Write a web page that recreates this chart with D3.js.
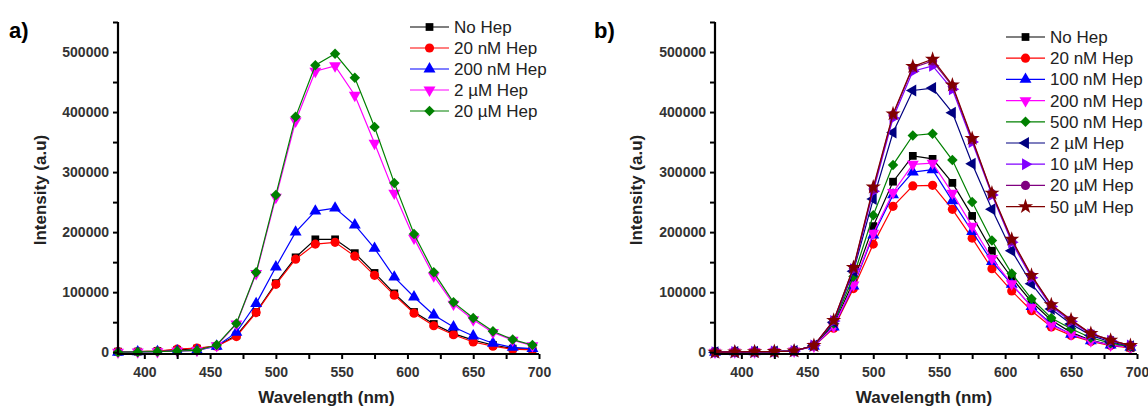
<!DOCTYPE html>
<html>
<head>
<meta charset="utf-8">
<script src="https://cdn.jsdelivr.net/npm/d3@7"></script>
<style>
  body { margin: 0; background: #fff; }
  svg { font-family: Arial, "Liberation Sans", sans-serif; }
</style>
</head>
<body>
<div id="chart"></div>
<script>
var width = 1148,
    height = 408;

// longitudes de onda medidas (nm)
var wavelengths = [380, 395, 410, 425, 440, 455, 470, 485, 500, 515, 530, 545, 560, 575, 590, 605, 620, 635, 650, 665, 680, 695];

// panel a)
var labelsA = ["No Hep", "20 nM Hep", "200 nM Hep", "2 \u00b5M Hep", "20 \u00b5M Hep"];
var a_noHep = [1000, 1000, 2000, 4000, 6000, 10000, 28000, 67000, 115000, 158000, 188000, 188000, 165000, 132000, 98000, 67000, 47000, 31000, 20000, 12000, 6000, 5000];
var a_20nM = [1000, 1000, 2000, 5000, 7000, 10000, 26000, 66000, 113000, 155000, 180000, 183000, 160000, 128000, 95000, 65000, 44000, 29000, 17000, 10000, 5000, 4000];
var a_200nM = [0, 500, 1000, 2000, 3000, 10000, 33000, 81000, 142000, 200000, 235000, 240000, 212000, 173000, 125000, 92000, 62000, 42000, 27000, 15000, 8000, 6000];
var a_2uM = [0, 500, 1000, 2000, 3000, 11000, 47000, 131000, 258000, 385000, 468000, 477000, 428000, 348000, 265000, 190000, 127000, 80000, 54000, 33000, 20000, 11000];
var a_20uM = [0, 500, 1000, 2000, 3000, 12000, 48000, 133000, 262000, 392000, 478000, 497000, 457000, 375000, 282000, 197000, 133000, 83000, 57000, 35000, 21000, 12000];

// panel b)
var labelsB = ["No Hep", "20 nM Hep", "100 nM Hep", "200 nM Hep", "500 nM Hep", "2 \u00b5M Hep", "10 \u00b5M Hep", "20 \u00b5M Hep", "50 \u00b5M Hep"];
var b_noHep = [0, 500, 800, 1000, 2000, 11000, 45000, 118000, 210000, 284000, 327000, 322000, 282000, 227000, 169000, 124000, 84000, 53000, 33000, 20000, 12000, 8000];
var b_20nM = [0, 500, 800, 1000, 2000, 10000, 40000, 106000, 180000, 243000, 277000, 278000, 238000, 190000, 139000, 102000, 69000, 42000, 28000, 18000, 11000, 7000];
var b_100nM = [0, 500, 800, 1000, 2000, 10000, 42000, 110000, 195000, 262000, 300000, 304000, 252000, 201000, 151000, 113000, 76000, 47000, 30000, 19000, 12000, 8000];
var b_200nM = [0, 500, 800, 1000, 2000, 10000, 43000, 112000, 198000, 266000, 313000, 315000, 265000, 210000, 156000, 114000, 75000, 45000, 30000, 19000, 12000, 8000];
var b_500nM = [0, 500, 800, 1000, 2000, 11000, 48000, 126000, 228000, 312000, 361000, 364000, 320000, 250000, 186000, 131000, 89000, 57000, 39000, 24000, 15000, 9000];
var b_2uM = [0, 500, 800, 1000, 2000, 11000, 50000, 135000, 255000, 366000, 436000, 440000, 399000, 314000, 238000, 169000, 114000, 72000, 47000, 28000, 17000, 10000];
var b_10uM = [0, 500, 800, 1000, 2000, 11000, 52000, 138000, 268000, 390000, 468000, 477000, 438000, 350000, 262000, 183000, 124000, 76000, 51000, 30000, 19000, 11000];
var b_20uM = [0, 500, 800, 1000, 2000, 11000, 53000, 140000, 272000, 395000, 474000, 485000, 443000, 354000, 264000, 186000, 127000, 78000, 53000, 31000, 20000, 11000];
var b_50uM = [0, 500, 800, 1000, 2000, 11000, 53000, 141000, 275000, 397000, 476000, 488000, 445000, 356000, 265000, 188000, 128000, 79000, 54000, 31000, 20000, 11000];

var yTicks = [0, 100000, 200000, 300000, 400000, 500000];
var xTicks = [400, 450, 500, 550, 600, 650, 700];

// simbolos estilo Origin
var sym = {
  square:  { type: d3.symbolSquare, size: 60, rot: 0 },
  circle:  { type: d3.symbolCircle, size: 66, rot: 0 },
  up:      { type: d3.symbolTriangle, size: 62, rot: 0 },
  down:    { type: d3.symbolTriangle, size: 62, rot: 180 },
  diamond: { type: d3.symbolSquare, size: 55, rot: 45 },
  left:    { type: d3.symbolTriangle, size: 62, rot: -90 },
  right:   { type: d3.symbolTriangle, size: 62, rot: 90 },
  star:    { type: d3.symbolStar, size: 72, rot: 0 }
};

var seriesA = [
  { name: labelsA[0], values: a_noHep, color: "#000000", s: sym.square },
  { name: labelsA[1], values: a_20nM, color: "#ff0000", s: sym.circle },
  { name: labelsA[2], values: a_200nM, color: "#0000ff", s: sym.up },
  { name: labelsA[3], values: a_2uM, color: "#ff00ff", s: sym.down },
  { name: labelsA[4], values: a_20uM, color: "#008000", s: sym.diamond }
];

var seriesB = [
  { name: labelsB[0], values: b_noHep, color: "#000000", s: sym.square },
  { name: labelsB[1], values: b_20nM, color: "#ff0000", s: sym.circle },
  { name: labelsB[2], values: b_100nM, color: "#0000ff", s: sym.up },
  { name: labelsB[3], values: b_200nM, color: "#ff00ff", s: sym.down },
  { name: labelsB[4], values: b_500nM, color: "#008000", s: sym.diamond },
  { name: labelsB[5], values: b_2uM, color: "#000080", s: sym.left },
  { name: labelsB[6], values: b_10uM, color: "#8000ff", s: sym.right },
  { name: labelsB[7], values: b_20uM, color: "#800080", s: sym.circle },
  { name: labelsB[8], values: b_50uM, color: "#800000", s: sym.star }
];

var svg = d3.select("#chart")
  .append("svg")
  .attr("width", width)
  .attr("height", height);

function panel(opts) {
  var x = d3.scaleLinear().domain([380, 700]).range([opts.x0, opts.x1]);
  var y = d3.scaleLinear().domain([-3000, 550000]).range([354, 22]);
  var g = svg.append("g");

  // letra del panel
  g.append("text")
    .attr("x", opts.letterX).attr("y", 38)
    .attr("font-size", 22).attr("font-weight", "bold")
    .text(opts.letter);

  var line = d3.line()
    .x(function (d, i) { return x(wavelengths[i]); })
    .y(function (d) { return y(d); });

  opts.series.forEach(function (s) {
    var sg = g.append("g");
    sg.append("path")
      .attr("d", line(s.values))
      .attr("fill", "none")
      .attr("stroke", s.color)
      .attr("stroke-width", 1.2);
    sg.selectAll("path.pt")
      .data(s.values)
      .enter().append("path")
      .attr("class", "pt")
      .attr("d", d3.symbol().type(s.s.type).size(s.s.size))
      .attr("transform", function (d, i) {
        return "translate(" + x(wavelengths[i]) + "," + y(d) + ") rotate(" + s.s.rot + ")";
      })
      .attr("fill", s.color);
  });

  // ejes
  var xAxis = d3.axisBottom(x).tickValues(d3.range(400, 701, 25))
    .tickSize(5).tickFormat(function (d) { return xTicks.indexOf(d) >= 0 ? d : ""; });
  var gx = g.append("g").attr("transform", "translate(0,354)").call(xAxis);
  gx.select(".domain").attr("d", "M" + opts.x0 + ",0H" + opts.x1).attr("stroke-width", 2.2);
  gx.selectAll(".tick line").attr("stroke-width", 2);
  gx.selectAll(".tick text").attr("font-size", 14).attr("font-weight", "bold")
    .attr("fill", "#333").attr("font-family", "Arial, 'Liberation Sans', sans-serif").attr("dy", "1.05em");

  var yAxis = d3.axisLeft(y).tickValues(d3.range(0, 550001, 50000))
    .tickSize(5).tickFormat(function (d) { return yTicks.indexOf(d) >= 0 ? d : ""; });
  var gy = g.append("g").attr("transform", "translate(" + opts.x0 + ",0)").call(yAxis);
  gy.select(".domain").attr("d", "M0,22V355").attr("stroke-width", 2.2);
  gy.selectAll(".tick line").attr("stroke-width", 2);
  gy.selectAll(".tick text").attr("font-size", 14).attr("font-weight", "bold")
    .attr("fill", "#333").attr("font-family", "Arial, 'Liberation Sans', sans-serif").attr("x", -9);

  // titulos de ejes
  g.append("text")
    .attr("x", (opts.x0 + opts.x1) / 2 - 2).attr("y", 403)
    .attr("text-anchor", "middle")
    .attr("font-size", 17).attr("font-weight", "bold").attr("fill", "#222")
    .text("Wavelength (nm)");
  g.append("text")
    .attr("transform", "translate(" + opts.ylabX + ",190) rotate(-90)")
    .attr("text-anchor", "middle")
    .attr("font-size", 17).attr("font-weight", "bold").attr("fill", "#222")
    .text("Intensity (a.u)");

  // leyenda
  var lg = g.append("g").attr("transform", "translate(" + opts.legX + "," + opts.legY + ")");
  opts.series.forEach(function (s, i) {
    var row = lg.append("g").attr("transform", "translate(0," + (i * opts.legStep) + ")");
    row.append("line").attr("x1", 0).attr("x2", 39).attr("stroke", s.color).attr("stroke-width", 1.2);
    row.append("path")
      .attr("d", d3.symbol().type(s.s.type).size(s.s.size))
      .attr("transform", "translate(19.5,0) rotate(" + s.s.rot + ")")
      .attr("fill", s.color);
    row.append("text").attr("x", 44).attr("y", 6)
      .attr("font-size", 17).attr("fill", "#222")
      .text(s.name);
  });
}

panel({ series: seriesA, x0: 118, x1: 539, letter: "a)", letterX: 9, ylabX: 46,
        legX: 410, legY: 27, legStep: 21 });
panel({ series: seriesB, x0: 715, x1: 1137, letter: "b)", letterX: 594, ylabX: 642,
        legX: 1006, legY: 37, legStep: 21.2 });
</script>
</body>
</html>
